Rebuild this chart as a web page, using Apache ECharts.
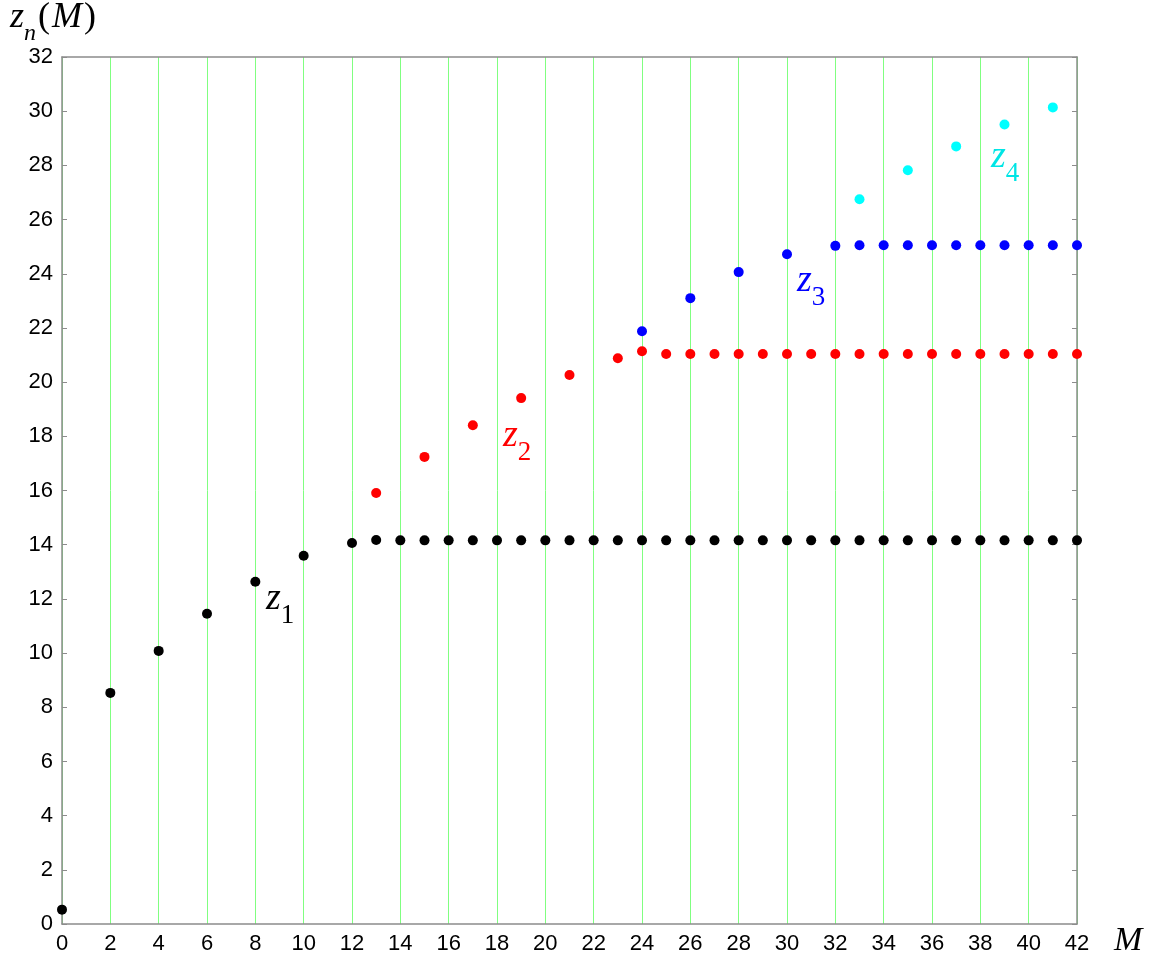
<!DOCTYPE html>
<html>
<head>
<meta charset="utf-8">
<script src="https://cdn.jsdelivr.net/npm/echarts@6/dist/echarts.min.js"></script>
<style>
html,body{margin:0;padding:0;background:#fff;}
#chart{width:1150px;height:960px;}
</style>
</head>
<body>
<div id="chart"></div>
<script>
// z1 (black)
var z1M = [0, 2, 4, 6, 8, 10, 12, 13, 14, 15, 16, 17, 18, 19, 20, 21, 22, 23, 24, 25, 26, 27, 28, 29, 30, 31, 32, 33, 34, 35, 36, 37, 38, 39, 40, 41, 42];
var z1V = [0.53, 8.53, 10.08, 11.45, 12.63, 13.59, 14.06, 14.17, 14.16, 14.16, 14.16, 14.16, 14.16, 14.16, 14.16, 14.16, 14.16, 14.16, 14.16, 14.16, 14.16, 14.16, 14.16, 14.16, 14.16, 14.16, 14.16, 14.16, 14.16, 14.16, 14.16, 14.16, 14.16, 14.16, 14.16, 14.16, 14.16];
// z2 (red)
var z2M = [13, 15, 17, 19, 21, 23, 24, 25, 26, 27, 28, 29, 30, 31, 32, 33, 34, 35, 36, 37, 38, 39, 40, 41, 42];
var z2V = [15.91, 17.24, 18.41, 19.41, 20.26, 20.88, 21.14, 21.04, 21.04, 21.04, 21.04, 21.04, 21.04, 21.04, 21.04, 21.04, 21.04, 21.04, 21.04, 21.04, 21.04, 21.04, 21.04, 21.04, 21.04];
// z3 (blue)
var z3M = [24, 26, 28, 30, 32, 33, 34, 35, 36, 37, 38, 39, 40, 41, 42];
var z3V = [21.88, 23.10, 24.06, 24.72, 25.03, 25.05, 25.05, 25.05, 25.05, 25.05, 25.05, 25.05, 25.05, 25.05, 25.05];
// z4 (cyan)
var z4M = [33, 35, 37, 39, 41];
var z4V = [26.75, 27.82, 28.70, 29.51, 30.14];

function pairs(ms, vs) { return ms.map(function (m, i) { return [m, vs[i]]; }); }

var serif = 'Liberation Serif, Times New Roman, serif';
var sans = 'Liberation Sans, Arial, sans-serif';
var gray = '#8c8c8c';

function zLabel(sub, color, x, y) {
  return {
    type: 'text', left: x, top: y,
    style: {
      text: '{z|z}{s|' + sub + '}',
      rich: {
        z: { fontFamily: serif, fontStyle: 'italic', fontSize: 38, fill: color, verticalAlign: 'top', lineHeight: 48, height: 36 },
        s: { fontFamily: serif, fontSize: 27, fill: color, verticalAlign: 'bottom', height: 26 }
      }
    }
  };
}

var chart = echarts.init(document.getElementById('chart'));
chart.setOption({
  animation: false,
  backgroundColor: '#fff',
  grid: { left: 62, right: 73, top: 57, bottom: 36, containLabel: false },
  xAxis: [{
    type: 'value', min: 0, max: 42, interval: 2, position: 'bottom',
    axisLine: { show: true, lineStyle: { color: gray, width: 1.5 } },
    axisTick: { show: false },
    axisLabel: { color: '#000', fontSize: 22, fontFamily: sans, margin: 9 },
    splitLine: { show: true, lineStyle: { color: '#80ff80', width: 1 } }
  }, {
    type: 'value', min: 0, max: 42, interval: 2, position: 'top',
    axisLine: { show: true, onZero: false, lineStyle: { color: gray, width: 1.5 } },
    axisTick: { show: false }, axisLabel: { show: false }, splitLine: { show: false }
  }],
  yAxis: [{
    type: 'value', min: 0, max: 32, interval: 2, position: 'left',
    axisLine: { show: true, onZero: false, lineStyle: { color: gray, width: 1.5 } },
    axisTick: { show: true, inside: true, length: 5, lineStyle: { color: gray } },
    axisLabel: { color: '#000', fontSize: 22, fontFamily: sans, margin: 9 },
    splitLine: { show: false }
  }, {
    type: 'value', min: 0, max: 32, interval: 2, position: 'right',
    axisLine: { show: true, onZero: false, lineStyle: { color: gray, width: 1.5 } },
    axisTick: { show: true, inside: true, length: 5, lineStyle: { color: gray } },
    axisLabel: { show: false }, splitLine: { show: false }
  }],
  series: [
    { type: 'scatter', data: pairs(z1M, z1V), symbolSize: 10, itemStyle: { color: '#000', opacity: 1 } },
    { type: 'scatter', data: pairs(z2M, z2V), symbolSize: 10, itemStyle: { color: '#ff0000', opacity: 1 } },
    { type: 'scatter', data: pairs(z3M, z3V), symbolSize: 10, itemStyle: { color: '#0000ff', opacity: 1 } },
    { type: 'scatter', data: pairs(z4M, z4V), symbolSize: 10, itemStyle: { color: '#00ffff', opacity: 1 } }
  ],
  graphic: [
    {
      type: 'text', left: 10, top: 0,
      style: {
        text: '{z|z}{n|n}{p|(}{m|M}{p|)}',
        rich: {
          z: { fontFamily: serif, fontStyle: 'italic', fontSize: 36, fill: '#000', verticalAlign: 'top', lineHeight: 44, height: 34 },
          n: { fontFamily: serif, fontStyle: 'italic', fontSize: 24, fill: '#000', verticalAlign: 'bottom', height: 22 },
          p: { fontFamily: serif, fontSize: 36, fill: '#000', verticalAlign: 'top', height: 34, padding: [0, 2, 0, 2] },
          m: { fontFamily: serif, fontStyle: 'italic', fontSize: 36, fill: '#000', verticalAlign: 'top', height: 34 }
        }
      }
    },
    {
      type: 'text', left: 1114, top: 924,
      style: { text: 'M', font: 'italic 34px ' + serif, fill: '#000' }
    },
    zLabel('1', '#000', 266, 580),
    zLabel('2', '#ff0000', 503, 417),
    zLabel('3', '#0000ff', 797, 262),
    zLabel('4', '#00e5e5', 991, 138)
  ]
});
</script>
</body>
</html>
